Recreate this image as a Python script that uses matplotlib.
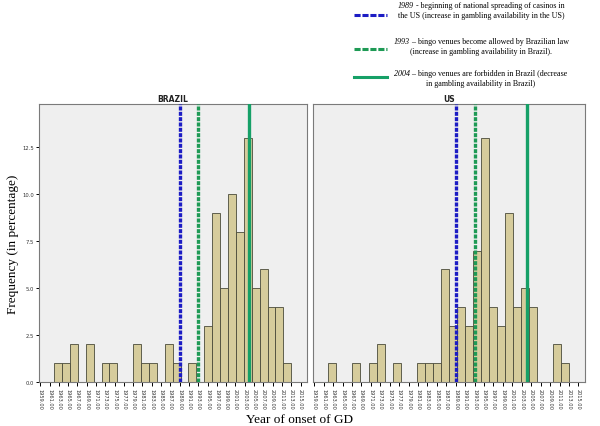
import numpy as np
import matplotlib
matplotlib.use("Agg")
import matplotlib.pyplot as plt
from matplotlib.lines import Line2D

# histogram bins (SPSS auto width, ~1.7 years) and frequencies (%)
bin_start = 1962.0
bin_width = 1.7
brazil = [1, 1, 2, 0, 2, 0, 1, 1, 0, 0, 2, 1, 1, 0, 2, 1, 0, 1, 0, 3,
          9, 5, 10, 8, 13, 5, 6, 4, 4, 1]
us = [1, 0, 0, 1, 0, 1, 2, 0, 1, 0, 0, 1, 1, 1, 6, 3, 4, 3, 7, 13,
      4, 3, 9, 4, 5, 4, 0, 0, 2, 1]
tick_years = list(range(1959, 2017, 2))
yticks = [0.0, 2.5, 5.0, 7.5, 10.0, 12.5]

event_years = [1989, 1993, 2004]
event_colors = ["#1c1cc4", "#1e9a55", "#16a067"]
event_styles = [(0, (1.2, 0.4)), (0, (1.2, 0.4)), "-"]
event_lines = [
    ("1989", " - beginning of national spreading of casinos in",
     "the US (increase in gambling availability in the US)"),
    ("1993", " \u2013 bingo venues become allowed by Brazilian law",
     "(increase in gambling availability in Brazil)."),
    ("2004", " \u2013 bingo venues are forbidden in Brazil (decrease",
     "in gambling availability in Brazil)"),
]

serif = "Liberation Serif"
bar_color = "#d6cc9c"
face = "#efefef"

bin_left = bin_start + bin_width * np.arange(len(brazil))

fig = plt.figure(figsize=(6, 4.27), dpi=100)
ax_br = fig.add_axes([0.0655, 0.103, 0.4462, 0.651])
ax_us = fig.add_axes([0.5222, 0.103, 0.4528, 0.651])

for ax, vals, name in [(ax_br, brazil, "BRAZIL"), (ax_us, us, "US")]:
    ax.set_facecolor(face)
    ax.bar(bin_left, vals, width=bin_width, align="edge", color=bar_color,
           edgecolor="#4a4a3a", linewidth=0.6, zorder=2)
    for yr, col, ls in zip(event_years, event_colors, event_styles):
        ax.axvline(yr, color=col, linestyle=ls, linewidth=2.4, zorder=3)
    ax.set_xlim(1958.8, 2016.4)
    ax.set_ylim(0, 14.8)
    ax.set_xticks(tick_years)
    ax.set_xticklabels([f"{y}.00" for y in tick_years], rotation=-90,
                       fontsize=3.6, color="#333333")
    ax.tick_params(axis="x", length=3, width=0.7, pad=1.5)
    for s in ax.spines.values():
        s.set_color("#7a7a7a")
        s.set_linewidth(0.8)
    ax.set_title(name, fontsize=5.5, fontweight="bold", pad=2, color="#222222")

ax_br.set_yticks(yticks)
ax_br.set_yticklabels([f"{v:.1f}" for v in yticks], fontsize=3.8,
                      color="#333333")
ax_br.tick_params(axis="y", length=2.5, width=0.7, pad=1)
ax_us.set_yticks([])

fig.text(0.022, 0.429, "Frequency (in percentage)", rotation=90,
         ha="center", va="center", family=serif, fontsize=9.5)
fig.text(0.5, 0.016, "Year of onset of GD", ha="center", va="center",
         family=serif, fontsize=9.5)

# legend block at top right
fig.canvas.draw()
r = fig.canvas.get_renderer()
line_y = [16, 50, 78]
text_y = [(6, 16), (42, 52), (74, 84)]
for (yr, rest, second), col, ls, ly, (t1, t2) in zip(
        event_lines, event_colors, event_styles, line_y, text_y):
    fig.add_artist(Line2D([354 / 600, 387 / 600], [1 - ly / 427, 1 - ly / 427],
                          color=col, linestyle=ls if ls == "-" else (0, (2, 0.6)),
                          linewidth=2.2))
    t = fig.text(0, 1 - t1 / 427, yr, ha="left", va="center",
                 family=serif, fontsize=5.8, style="italic")
    t_rest = fig.text(0, 1 - t1 / 427, rest, ha="left", va="center",
                      family=serif, fontsize=5.8)
    w_year = t.get_window_extent(r).width
    w_rest = t_rest.get_window_extent(r).width
    x0 = 481 - (w_year + w_rest) / 2
    t.set_x(x0 / 600)
    t_rest.set_x((x0 + w_year) / 600)
    fig.text(481 / 600, 1 - t2 / 427, second, ha="center", va="center",
             family=serif, fontsize=5.8)

fig.savefig("out.png", dpi=100, facecolor="white")
